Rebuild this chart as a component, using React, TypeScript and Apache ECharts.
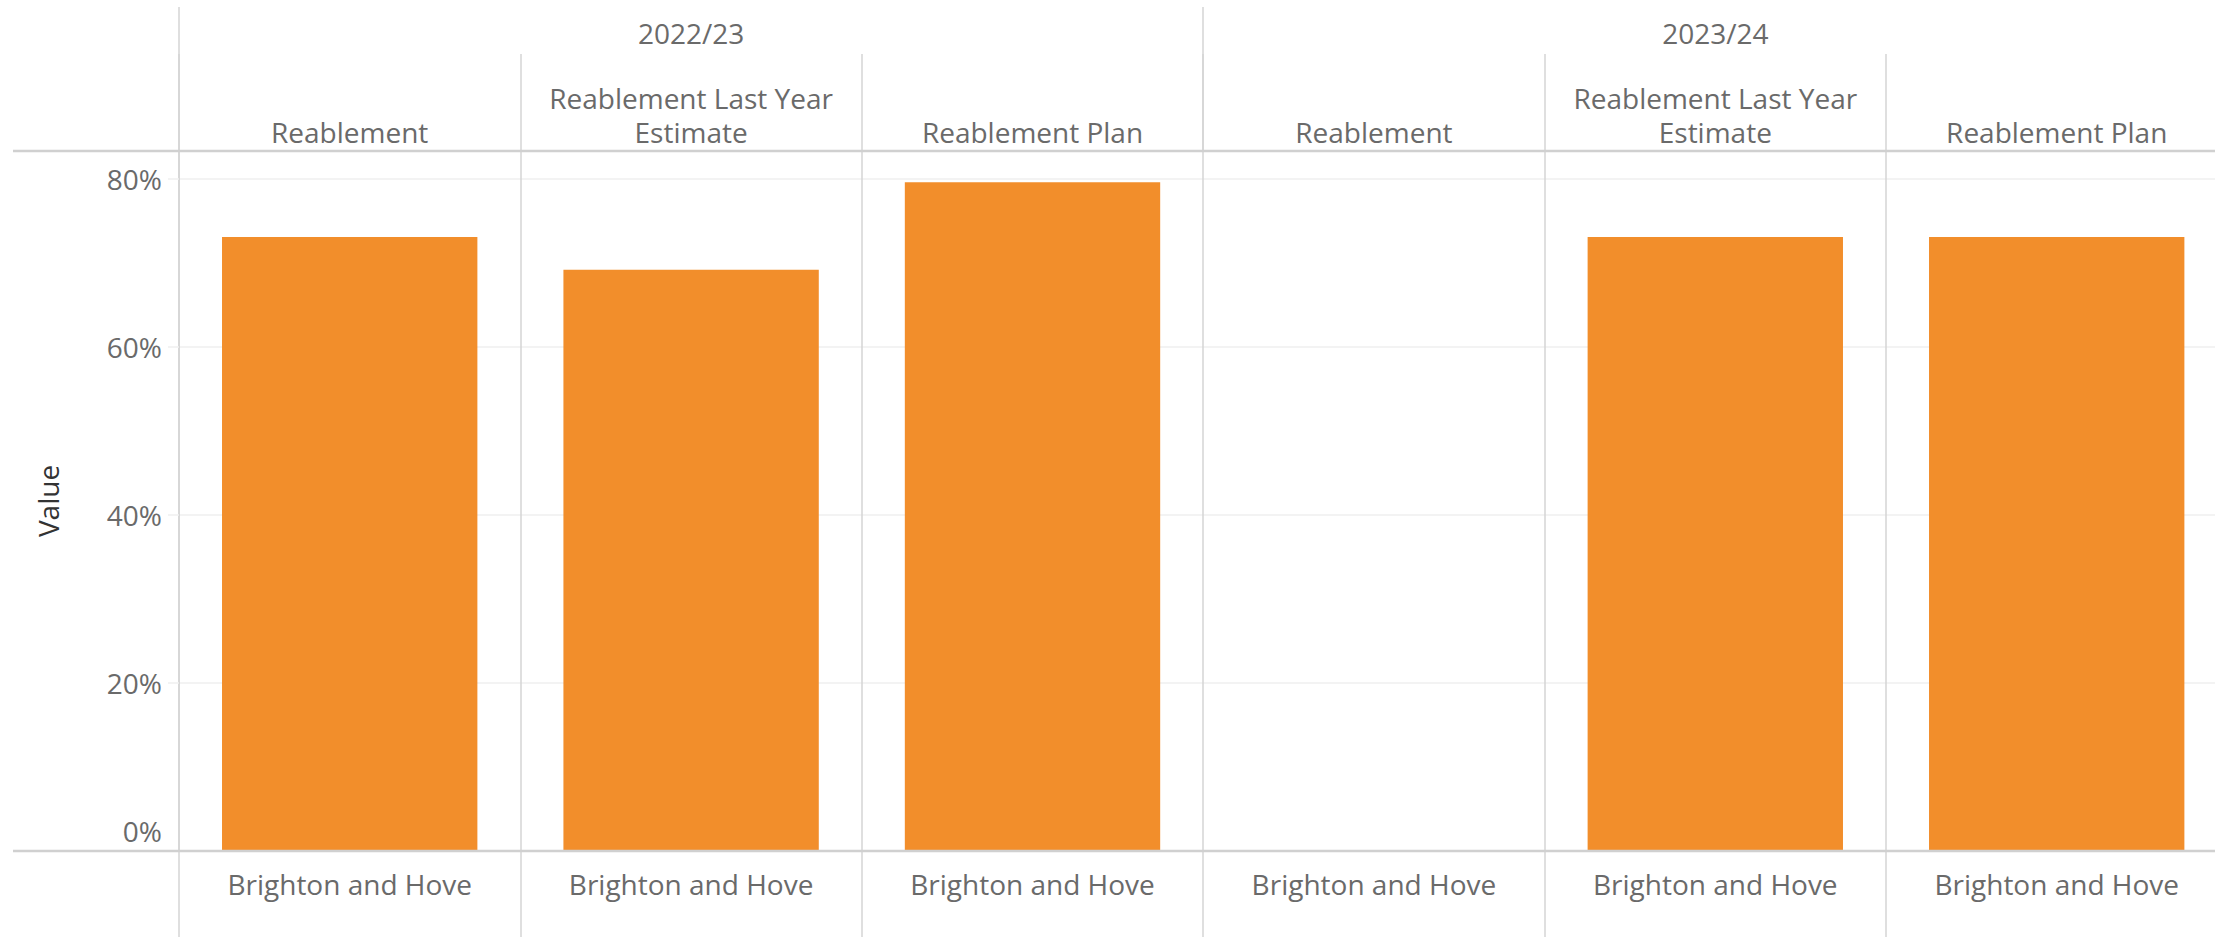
import React, { useEffect, useRef } from 'react';
import * as echarts from 'echarts';

// ---- data ----
const years = ['2022/23', '2023/24'];
const measures = ['Reablement', 'Reablement Last Year\nEstimate', 'Reablement Plan'];
const region = 'Brighton and Hove';
// one column per (year, measure)
const columnMeasures = [...measures, ...measures];
const columnRegions = [region, region, region, region, region, region];
const values: (number | null)[] = [0.731, 0.692, 0.796, null, 0.731, 0.731];
const axisMax = 0.8333;
const tickStep = 0.2;

// ---- layout / style ----
const W = 2215;
const H = 937;
const CHART_W = 2260; // the last panel runs past the window edge
const LEFT = 179;
const PANEL = 341.4;
const GRID_W = PANEL * 6;
const HEADER_Y = 151;
const BASE_Y = 851;
const FONT = '"Open Sans", "Noto Sans", sans-serif';
const TXT = '#6a6a6a';
const DIV = '#d4d4d4';
const GRIDC = '#efefef';
const BAR = '#F28E2B';
const FS = 28;

export default function App() {
  const ref = useRef<HTMLDivElement>(null);
  useEffect(() => {
    if (!ref.current) return;
    const chart = echarts.init(ref.current, null, { renderer: 'svg', width: CHART_W, height: H });
    const labelBase = { color: TXT, fontFamily: FONT, fontSize: FS };
    const divLine = { show: true, interval: 0, lineStyle: { color: DIV, width: 1.5 } };
    chart.setOption({
      animation: false,
      backgroundColor: '#ffffff',
      grid: [
        { left: LEFT, top: HEADER_Y, width: GRID_W, height: BASE_Y - HEADER_Y },
        { left: LEFT, top: 7, width: GRID_W, height: HEADER_Y - 7 },
        { left: LEFT, top: 54, width: GRID_W, height: HEADER_Y - 54 },
        { left: LEFT, top: BASE_Y, width: GRID_W, height: H - BASE_Y },
      ],
      xAxis: [
        {
          gridIndex: 0, type: 'category', data: columnMeasures.map((m, i) => `${years[Math.floor(i / 3)]} ${m}`),
          axisLine: { show: false }, axisTick: { show: false }, axisLabel: { show: false },
          splitLine: divLine,
        },
        {
          gridIndex: 1, type: 'category', data: years, position: 'top',
          axisLine: { show: false }, axisTick: { show: false },
          axisLabel: { ...labelBase, inside: true, margin: 26, verticalAlign: 'middle', interval: 0 },
          splitLine: divLine,
        },
        {
          gridIndex: 2, type: 'category', data: columnMeasures, position: 'bottom',
          axisLine: { show: false }, axisTick: { show: false },
          axisLabel: { ...labelBase, inside: true, margin: 2, verticalAlign: 'bottom', lineHeight: 34, interval: 0, align: 'center' },
          splitLine: divLine,
        },
        {
          gridIndex: 3, type: 'category', data: columnRegions, position: 'top',
          axisLine: { show: false }, axisTick: { show: false },
          axisLabel: { ...labelBase, inside: true, margin: 33, verticalAlign: 'middle', interval: 0 },
          splitLine: divLine,
        },
      ],
      yAxis: [
        {
          gridIndex: 0, type: 'value', min: 0, max: axisMax, interval: tickStep,
          axisLine: { show: true, lineStyle: { color: DIV, width: 1.5 } },
          axisTick: { show: true, length: 11, lineStyle: { color: GRIDC, width: 1.5 } },
          splitLine: { show: true, lineStyle: { color: GRIDC, width: 1.5 } },
          axisLabel: {
            ...labelBase, margin: 17, showMaxLabel: false,
            formatter: (v: number) => {
              const k = v / tickStep;
              if (Math.abs(k - Math.round(k)) > 1e-6) return '';
              const s = `${Math.round(v * 100)}%`;
              return v === 0 ? `{z|${s}}` : s;
            },
            rich: { z: { ...labelBase, padding: [0, 0, 40, 0] } },
          },
          name: 'Value', nameLocation: 'middle', nameRotate: 90, nameGap: 117,
          nameTextStyle: { color: '#333333', fontFamily: FONT, fontSize: FS },
        },
        { gridIndex: 1, type: 'value', show: false },
        { gridIndex: 2, type: 'value', show: false },
        { gridIndex: 3, type: 'value', show: false },
      ],
      series: [
        {
          type: 'bar', xAxisIndex: 0, yAxisIndex: 0, data: values,
          barCategoryGap: '25.2%', itemStyle: { color: BAR },
        },
      ],
      graphic: [
        { type: 'line', shape: { x1: 13, y1: HEADER_Y, x2: CHART_W, y2: HEADER_Y }, style: { stroke: '#d0d0d0', lineWidth: 2.5 }, z: 100 },
        { type: 'line', shape: { x1: 13, y1: BASE_Y, x2: CHART_W, y2: BASE_Y }, style: { stroke: '#d0d0d0', lineWidth: 2.5 }, z: 100 },
      ],
    });
    return () => chart.dispose();
  }, []);
  return (
    <div style={{ position: 'fixed', left: 0, top: 0, width: W, height: H, overflow: 'hidden', background: '#fff' }}>
      <div ref={ref} style={{ width: CHART_W, height: H }} />
    </div>
  );
}
